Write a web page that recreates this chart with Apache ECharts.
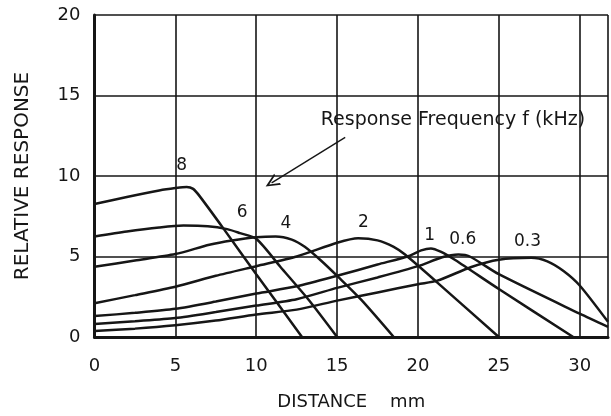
<!DOCTYPE html>
<html>
<head>
<meta charset="utf-8">
<script src="https://cdn.jsdelivr.net/npm/echarts@6/dist/echarts.min.js"></script>
<style>
html,body{margin:0;padding:0;background:#fff;}
#chart{width:611px;height:416px;}
</style>
</head>
<body>
<div id="chart"></div>
<script>
// ---- data ----
const freqLabels = ['8', '6', '4', '2', '1', '0.6', '0.3'];

const dist8 = [0, 2, 4, 5, 5.7, 6.1, 6.5, 8, 10, 12.83];
const resp8 = [8.26, 8.7, 9.1, 9.25, 9.32, 9.2, 8.75, 6.7, 3.9, 0];

const dist6 = [0, 2, 4, 5.5, 7, 8.2, 9, 10, 11.5, 13.25, 15];
const resp6 = [6.24, 6.55, 6.8, 6.92, 6.88, 6.7, 6.45, 6.1, 4.35, 2.3, 0];

const dist4 = [0, 2.5, 5, 7.1, 8.5, 10, 11.2, 12.2, 13, 14, 15.1, 16.5, 18.5];
const resp4 = [4.36, 4.75, 5.15, 5.73, 6.0, 6.2, 6.25, 6.05, 5.6, 4.75, 3.7, 2.3, 0];

const dist2 = [0, 2.5, 5, 7.5, 10, 12.5, 15, 16.3, 17.5, 18.5, 19.2, 21.2, 25];
const resp2 = [2.1, 2.6, 3.12, 3.8, 4.4, 5.0, 5.85, 6.13, 6.0, 5.6, 5.12, 3.38, 0];

const dist1 = [0, 2.5, 5, 7.5, 10, 12.5, 15, 17.5, 19.5, 20.2, 20.8, 21.4, 22.3, 25, 29.6];
const resp1 = [1.3, 1.5, 1.75, 2.2, 2.7, 3.15, 3.8, 4.5, 5.05, 5.38, 5.5, 5.3, 4.78, 2.98, 0];

const dist06 = [0, 2.5, 5, 7.5, 10, 12.5, 15, 17.5, 20, 21.5, 22.5, 23.2, 25, 30, 31.75];
const resp06 = [0.8, 0.98, 1.18, 1.55, 1.95, 2.35, 3.05, 3.7, 4.4, 4.95, 5.12, 5.0, 3.9, 1.45, 0.63];

const dist03 = [0, 2.5, 5, 7.5, 10, 12.5, 15, 17.5, 20, 21.2, 23.3, 25, 27, 28, 29, 30, 31.75];
const resp03 = [0.37, 0.52, 0.73, 1.02, 1.4, 1.7, 2.26, 2.77, 3.28, 3.5, 4.35, 4.8, 4.92, 4.7, 4.1, 3.2, 0.94];

// label anchor points (data units) for each curve's frequency label
const labelDist = [5.39, 9.13, 11.83, 16.63, 20.73, 22.77, 26.77];
const labelResp = [10.64, 7.7, 7.03, 7.09, 6.3, 6.07, 5.93];

const xTicks = [0, 5, 10, 15, 20, 25, 30];
const yTicks = [0, 5, 10, 15, 20];

const annotationText = 'Response Frequency f (kHz)';
const annotationAt = [22.16, 13.45];
const arrowFrom = [15.5, 12.4];
const arrowTo = [10.95, 9.57];

// ---- chart ----
const curves = [
  [dist8, resp8], [dist6, resp6], [dist4, resp4], [dist2, resp2],
  [dist1, resp1], [dist06, resp06], [dist03, resp03]
];

const INK = '#161616';
const FONT = 'DejaVu Sans';

const series = curves.map(function (c, i) {
  const pts = c[0].map(function (d, j) { return [d, c[1][j]]; });
  const s = {
    type: 'line',
    name: freqLabels[i],
    data: pts,
    showSymbol: false,
    smooth: 0.25,
    lineStyle: { color: INK, width: 2.5 },
    emphasis: { disabled: true },
    silent: true,
    z: 3,
    markPoint: {
      silent: true,
      symbol: 'circle',
      symbolSize: 1,
      itemStyle: { color: 'rgba(0,0,0,0)' },
      label: {
        show: true,
        position: 'inside',
        color: INK,
        fontFamily: FONT,
        fontSize: 17,
        formatter: freqLabels[i]
      },
      data: [{ coord: [labelDist[i], labelResp[i]] }]
    }
  };
  if (i === 0) {
    s.markLine = {
      silent: true,
      symbol: ['none', 'path://M0,12 L6,0 L12,12 L10.2,12 L6,3.6 L1.8,12 Z'],
      symbolSize: [13, 14],
      lineStyle: { color: INK, width: 1.4, type: 'solid' },
      label: { show: false },
      data: [[{ coord: arrowFrom }, { coord: arrowTo }]]
    };
    s.markPoint.data.push({
      coord: annotationAt,
      label: { formatter: annotationText, fontSize: 19 }
    });
  }
  return s;
});

const chart = echarts.init(document.getElementById('chart'), null, { renderer: 'canvas' });
chart.setOption({
  animation: false,
  backgroundColor: '#ffffff',
  grid: { left: 94.5, right: 0, top: 15, bottom: 74, containLabel: false },
  xAxis: {
    type: 'value',
    min: 0,
    max: 31.75,
    interval: 5,
    name: 'DISTANCE    mm',
    nameLocation: 'middle',
    nameGap: 56,
    nameTextStyle: { color: INK, fontFamily: FONT, fontSize: 18 },
    axisLine: { show: true, onZero: false, lineStyle: { color: INK, width: 3 } },
    axisTick: { show: false },
    axisLabel: {
      color: INK, fontFamily: FONT, fontSize: 18, margin: 20,
      formatter: function (v) { return xTicks.indexOf(v) >= 0 ? String(v) : ''; }
    },
    splitLine: { show: true, lineStyle: { color: INK, width: 1.6 } }
  },
  yAxis: {
    type: 'value',
    min: 0,
    max: 20,
    interval: 5,
    name: 'RELATIVE RESPONSE',
    nameLocation: 'middle',
    nameGap: 62,
    nameTextStyle: { color: INK, fontFamily: FONT, fontSize: 20 },
    axisLine: { show: true, onZero: false, lineStyle: { color: INK, width: 3 } },
    axisTick: { show: false },
    axisLabel: {
      color: INK, fontFamily: FONT, fontSize: 18, margin: 14,
      formatter: function (v) { return yTicks.indexOf(v) >= 0 ? String(v) : ''; }
    },
    splitLine: { show: true, lineStyle: { color: INK, width: 1.6 } }
  },
  series: series
});
</script>
</body>
</html>
